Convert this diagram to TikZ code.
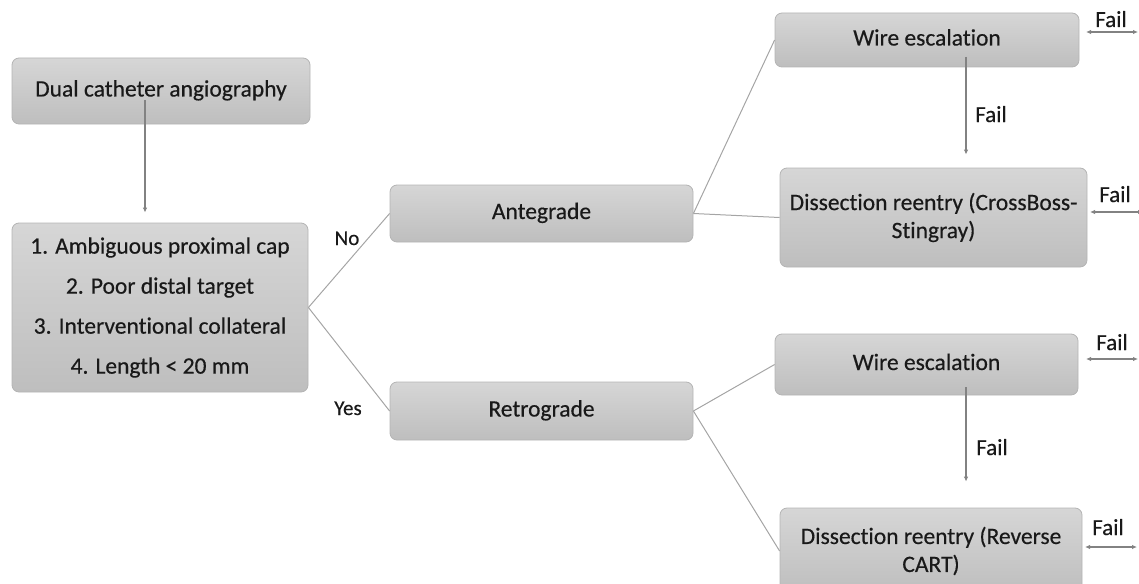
\documentclass[tikz,border=0pt]{standalone}
\usepackage{fontspec}
\setmainfont[Ligatures=NoCommon]{Carlito}
\newfontfamily\boxfont[Ligatures=NoCommon, FakeBold=0.4]{Carlito}
\usetikzlibrary{arrows.meta,calc}
\definecolor{boxtop}{RGB}{214,214,214}
\definecolor{boxbot}{RGB}{190,190,190}
\definecolor{boxline}{RGB}{180,180,180}
\definecolor{connc}{RGB}{165,165,165}
\definecolor{arrc}{RGB}{130,130,130}
\definecolor{txt}{RGB}{25,25,25}
\tikzset{
  box/.style={draw=boxline, line width=0.8pt, rounded corners=7pt, top color=boxtop, bottom color=boxbot,
    inner sep=0pt, align=center, text=txt, font=\boxfont\fontsize{23.5}{28}\selectfont},
  onel/.style={text height=17pt, text depth=6pt},
  lbl/.style={inner sep=0pt, anchor=base, text=txt, font=\boxfont\fontsize{23}{28}\selectfont},
  conn/.style={draw=connc, line width=1pt},
  arr/.style={draw=arrc, line width=1.2pt, -{Latex[length=5pt,width=4.5pt]}},
  darr/.style={draw=arrc, line width=1.2pt, {Latex[length=5pt,width=4.5pt]}-{Latex[length=5pt,width=4.5pt]}}
}
\begin{document}
\begin{tikzpicture}[x=1pt,y=-1pt]
\useasboundingbox (0,0) rectangle (1139,583);
% nodes
\node[box, onel, minimum width=298pt, minimum height=66pt] (dual) at (161,91) {Dual catheter angiography};
\node[box, minimum width=296pt, minimum height=169pt, font=\boxfont\fontsize{23.5}{40}\selectfont] (crit) at (160,307.5)
  {1. Ambiguous proximal cap\\2. Poor distal target\\3. Interventional collateral\\4. Length < 20 mm};
\node[box, onel, minimum width=303pt, minimum height=57pt] (ante) at (541.5,213.5) {Antegrade};
\node[box, onel, minimum width=303pt, minimum height=58pt] (retro) at (541.5,411) {Retrograde};
\node[box, onel, minimum width=304pt, minimum height=54pt] (we1) at (927,40) {Wire escalation};
\node[box, minimum width=307pt, minimum height=99pt] (dr1) at (933.5,217.5) {Dissection reentry (CrossBoss-\\Stingray)};
\node[box, onel, minimum width=303pt, minimum height=61pt] (we2) at (926.5,364.5) {Wire escalation};
\node[box, minimum width=302pt, minimum height=86pt] (dr2) at (931,551) {Dissection reentry (Reverse\\CART)};
% labels
\node[lbl, font=\boxfont\fontsize{21}{24}\selectfont] (no) at (347,245) {No};
\node[lbl, font=\boxfont\fontsize{21}{24}\selectfont] (yes) at (348,415) {Yes};
\node[lbl] (fv1) at (991,122) {Fail};
\node[lbl] (fv2) at (992,455) {Fail};
\node[lbl] (fr1) at (1111,27) {Fail};
\node[lbl] (fr2) at (1115,202) {Fail};
\node[lbl] (fr3) at (1112,350) {Fail};
\node[lbl] (fr4) at (1108,535) {Fail};
% connectors
\draw[conn] (crit.east) -- (ante.west);
\draw[conn] (crit.east) -- (retro.west);
\draw[conn] (ante.east) -- (we1.west);
\draw[conn] (ante.east) -- (dr1.west);
\draw[conn] (retro.east) -- (we2.west);
\draw[conn] (retro.east) -- (dr2.west);
% arrows
\coordinate (ds) at (145,100);
\draw[arr, shorten >=10pt] (ds) -- (ds |- crit.north);
\coordinate (fs1) at (966,57);
\draw[arr, shorten >=13pt] (fs1) -- (fs1 |- dr1.north);
\coordinate (fs2) at (966,387);
\draw[arr, shorten >=26pt] (fs2) -- (fs2 |- dr2.north);
\coordinate (r1a) at (1086,32); \coordinate (r1b) at (1138,32);
\draw[darr] (r1a) -- (r1b);
\coordinate (r2a) at (1090,212); \coordinate (r2b) at (1143,212);
\draw[darr] (r2a) -- (r2b);
\coordinate (r3a) at (1086,359); \coordinate (r3b) at (1138,359);
\draw[darr] (r3a) -- (r3b);
\coordinate (r4a) at (1085,547); \coordinate (r4b) at (1137,547);
\draw[darr] (r4a) -- (r4b);
\end{tikzpicture}
\end{document}
